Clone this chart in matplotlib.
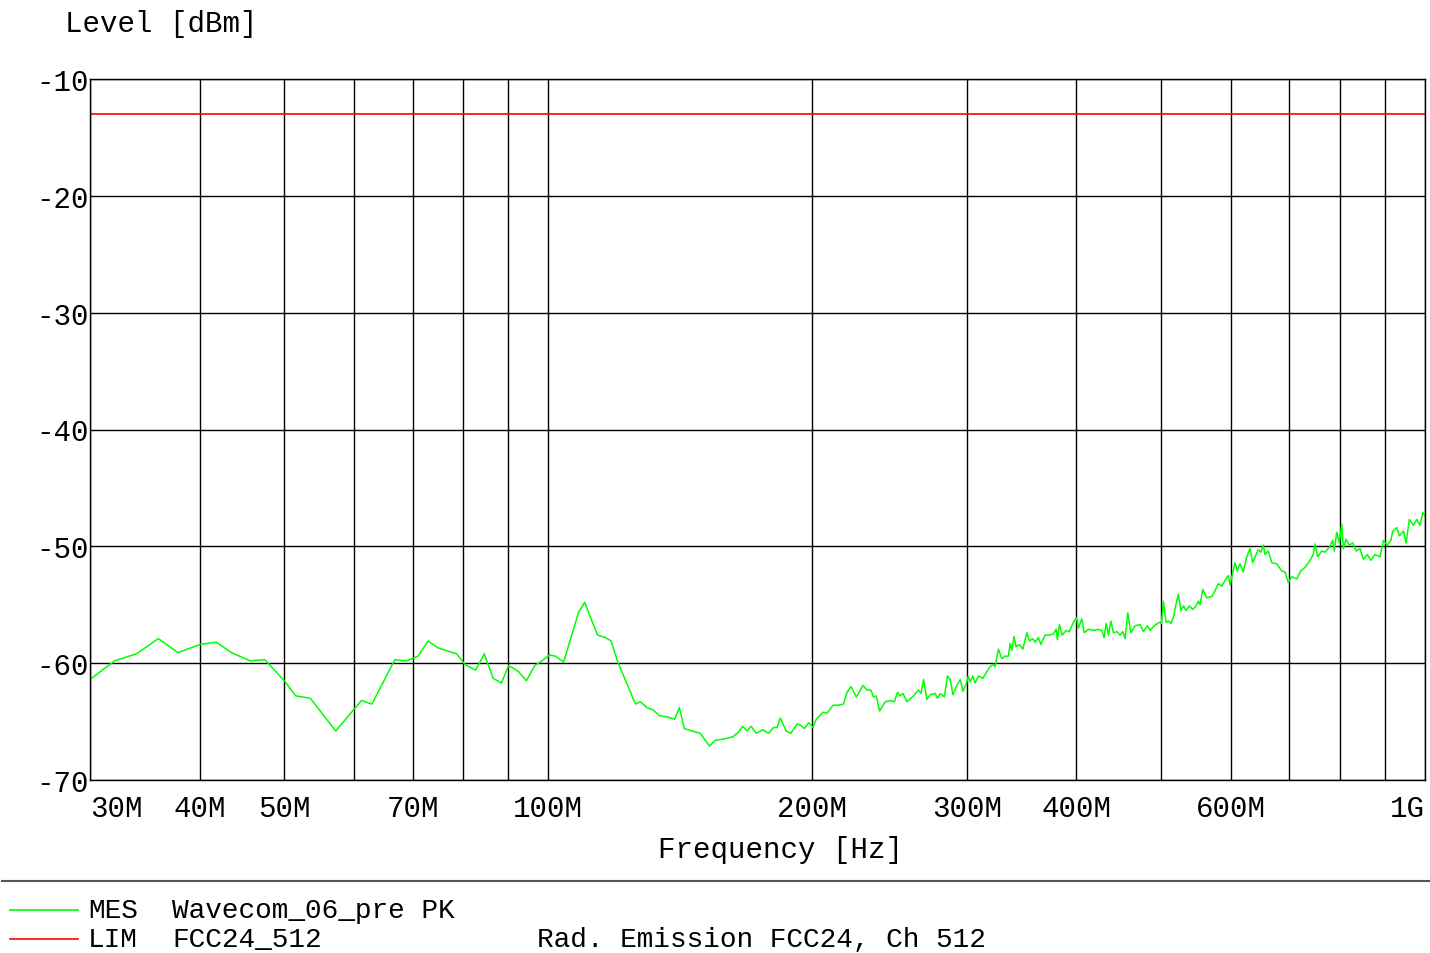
import numpy as np
import matplotlib
matplotlib.use("Agg")
import matplotlib.pyplot as plt
from matplotlib.lines import Line2D

plt.rcParams['font.family'] = ['Liberation Mono', 'DejaVu Sans Mono']

# measured trace (MHz, dBm)
freq_mhz = [30.0, 32.0, 33.9, 35.9, 37.8, 40.05, 41.8, 43.5, 45.7, 47.5,
            50.1, 51.5, 53.5, 57.2, 61.2, 62.9, 66.8, 68.9, 71.0, 72.9,
            74.9, 78.6, 80.3, 82.6, 84.5, 86.5, 88.4, 90.1, 92.4, 94.4,
            96.5, 97.9, 100.3, 101.9, 104.1, 108.3, 110.0, 113.8, 116.1, 117.9,
            120.0, 125.7, 127.3, 129.6, 131.6, 133.9, 136.6, 139.3, 141.1, 142.9,
            145.8, 149.0, 152.7, 155.0, 158.4, 162.4, 164.8, 166.6, 168.5, 170.3,
            172.7, 175.7, 178.3, 180.7, 182.3, 183.9, 186.7, 189.1, 192.2, 193.8,
            195.9, 198.1, 200.4, 202.1, 205.7, 207.9, 211.2, 214.3, 217.1, 219.1,
            221.4, 224.5, 228.5, 230.9, 233.3, 234.9, 236.6, 238.7, 242.3, 245.5,
            248.1, 250.2, 252.0, 253.8, 256.5, 260.9, 264.4, 266.1, 267.9, 270.3,
            272.6, 276.2, 277.9, 279.9, 282.9, 285.3, 287.3, 289.4, 292.4, 295.0,
            297.1, 299.6, 301.4, 302.8, 304.9, 306.8, 309.5, 313.1, 315.8, 319.1,
            321.9, 323.3, 326.1, 329.0, 331.9, 334.8, 336.3, 337.8, 339.8, 341.6,
            344.6, 347.7, 351.4, 353.8, 356.9, 359.1, 362.2, 364.5, 368.6, 372.8,
            376.8, 379.5, 380.8, 382.8, 385.5, 389.6, 393.0, 397.1, 400.3, 402.4,
            406.0, 408.5, 413.1, 418.6, 424.1, 427.9, 430.5, 432.8, 435.4, 438.2,
            441.2, 445.1, 449.0, 452.2, 454.9, 458.1, 461.8, 467.0, 473.2, 477.3,
            482.3, 485.8, 490.9, 497.8, 500.4, 503.0, 506.6, 509.7, 512.9, 516.4,
            520.1, 523.2, 526.6, 530.2, 533.9, 538.6, 543.4, 548.1, 551.4, 553.9,
            557.8, 563.8, 571.2, 576.1, 581.1, 586.4, 591.5, 596.6, 599.2, 607.1,
            610.8, 615.2, 620.5, 626.1, 631.5, 636.0, 639.9, 645.4, 650.0, 653.9,
            656.9, 662.6, 668.6, 677.3, 686.4, 692.3, 698.3, 704.6, 713.9, 721.5,
            729.7, 739.3, 745.7, 749.1, 754.4, 762.4, 769.0, 777.7, 784.7, 788.0,
            793.0, 798.4, 803.6, 807.0, 812.7, 819.8, 827.1, 834.3, 843.1, 850.5,
            859.4, 867.1, 876.9, 888.6, 896.3, 905.9, 914.0, 918.9, 928.5, 934.9,
            944.8, 951.5, 959.8, 969.9, 978.7, 987.1, 994.2, 1000.0]
level_dbm = [-61.4, -59.8, -59.2, -57.9, -59.1, -58.4, -58.2, -59.1, -59.8, -59.7,
             -61.6, -62.8, -63.0, -65.8, -63.2, -63.5, -59.7, -59.8, -59.4, -58.1,
             -58.7, -59.2, -60.1, -60.6, -59.2, -61.3, -61.7, -60.2, -60.7, -61.5,
             -60.2, -59.9, -59.3, -59.4, -59.9, -55.6, -54.8, -57.6, -57.8, -58.1,
             -59.9, -63.5, -63.3, -63.8, -64.0, -64.5, -64.6, -64.8, -63.8, -65.6,
             -65.8, -66.0, -67.1, -66.6, -66.5, -66.3, -65.9, -65.4, -65.8, -65.4,
             -66.0, -65.7, -66.0, -65.5, -65.5, -64.7, -65.8, -66.0, -65.2, -65.3,
             -65.6, -65.1, -65.5, -64.8, -64.2, -64.3, -63.6, -63.6, -63.5, -62.5,
             -62.0, -62.9, -61.9, -62.3, -62.3, -62.9, -62.8, -64.1, -63.3, -63.2,
             -63.3, -62.5, -62.8, -62.6, -63.3, -62.8, -62.3, -62.6, -61.4, -63.1,
             -62.7, -62.6, -63.0, -62.6, -62.9, -61.1, -61.4, -62.7, -61.9, -61.4,
             -62.4, -61.8, -61.1, -61.6, -61.1, -61.7, -61.1, -61.3, -60.8, -60.3,
             -60.1, -60.3, -58.8, -59.6, -59.4, -59.4, -58.3, -58.9, -57.7, -58.6,
             -58.4, -58.8, -57.4, -58.1, -57.9, -58.2, -57.8, -58.4, -57.6, -57.6,
             -57.5, -57.1, -58.0, -56.7, -57.6, -57.2, -57.3, -56.5, -56.1, -57.0,
             -56.2, -57.4, -57.1, -57.2, -57.1, -57.2, -57.8, -56.6, -57.6, -56.4,
             -57.4, -57.3, -57.6, -57.3, -57.9, -55.7, -57.4, -56.8, -56.7, -57.3,
             -56.8, -57.2, -56.8, -56.5, -56.6, -54.7, -56.5, -56.4, -56.6, -56.1,
             -54.9, -54.1, -55.5, -55.1, -55.5, -55.1, -55.4, -55.1, -54.7, -55.0,
             -53.7, -54.4, -54.3, -53.8, -53.2, -53.4, -52.9, -52.5, -53.3, -51.4,
             -52.1, -51.5, -52.2, -50.9, -50.2, -51.4, -50.9, -50.3, -50.5, -49.9,
             -50.7, -50.4, -51.4, -51.5, -52.1, -52.2, -53.1, -52.6, -52.8, -52.1,
             -51.8, -51.2, -50.7, -49.8, -50.9, -50.4, -50.5, -50.1, -49.5, -50.4,
             -48.8, -49.7, -48.1, -50.2, -49.4, -49.9, -49.7, -50.4, -50.2, -51.1,
             -50.7, -51.2, -50.7, -50.9, -49.5, -49.9, -49.5, -48.7, -48.4, -49.1,
             -48.7, -49.7, -47.7, -48.2, -47.7, -48.2, -47.1, -47.4]

# limit line
limit_freq = [30.0, 1000.0]
limit_dbm = [-13.0, -13.0]

grid_freqs = [30, 40, 50, 60, 70, 80, 90, 100, 200, 300, 400, 500, 600, 700, 800, 900, 1000]
grid_labels = ["30M", "40M", "50M", "", "70M", "", "", "100M", "200M", "300M", "400M",
               "", "600M", "", "", "", "1G"]
y_ticks = [-70, -60, -50, -40, -30, -20, -10]
y_labels = ["-70", "-60", "-50", "-40", "-30", "-20", "-10"]

fig = plt.figure(figsize=(14.3, 9.54), dpi=100)
ax = fig.add_axes([90 / 1430, 1 - 781 / 954, 1335 / 1430, 701 / 954])

ax.plot(freq_mhz, level_dbm, color='#00ff00', lw=1.1)
ax.plot(limit_freq, limit_dbm, color='#ff0000', lw=1.2)

ax.set_xscale('log')
ax.set_xlim(30, 1000)
ax.set_ylim(-70, -10)
ax.minorticks_off()
ax.set_xticks(grid_freqs)
ax.set_xticklabels(grid_labels)
ax.set_yticks(y_ticks)
ax.set_yticklabels(y_labels)
ax.grid(True, color='black', lw=1.0)
ax.set_axisbelow(True)
ax.tick_params(axis='both', length=0, labelsize=21)
ax.tick_params(axis='x', pad=10)
ax.tick_params(axis='y', pad=1)
lbls = ax.get_xticklabels()
lbls[0].set_ha('left')
lbls[-1].set_ha('right')
for s in ax.spines.values():
    s.set_linewidth(1.0)

fig.text(65 / 1430, 1 - 24 / 954, "Level [dBm]", fontsize=21, va='center', ha='left')
fig.text(781 / 1430, 1 - 850 / 954, "Frequency [Hz]", fontsize=21, va='center', ha='center')

# separator and legend
fig.add_artist(Line2D([2 / 1430, 1], [1 - 882 / 954] * 2, color='#555555', lw=1.5))
fig.add_artist(Line2D([10 / 1430, 78 / 1430], [1 - 911 / 954] * 2, color='#00ff00', lw=1.2))
fig.add_artist(Line2D([10 / 1430, 78 / 1430], [1 - 940 / 954] * 2, color='#ff0000', lw=1.2))
fig.text(88 / 1430, 1 - 911 / 954, "MES", fontsize=20, va='center')
fig.text(172 / 1430, 1 - 911 / 954, "Wavecom_06_pre PK", fontsize=20, va='center')
fig.text(88 / 1430, 1 - 940 / 954, "LIM", fontsize=20, va='center')
fig.text(172 / 1430, 1 - 940 / 954, "FCC24_512", fontsize=20, va='center')
fig.text(537 / 1430, 1 - 940 / 954, "Rad. Emission FCC24, Ch 512", fontsize=20, va='center')

fig.savefig("out.png", dpi=100, facecolor='white')
